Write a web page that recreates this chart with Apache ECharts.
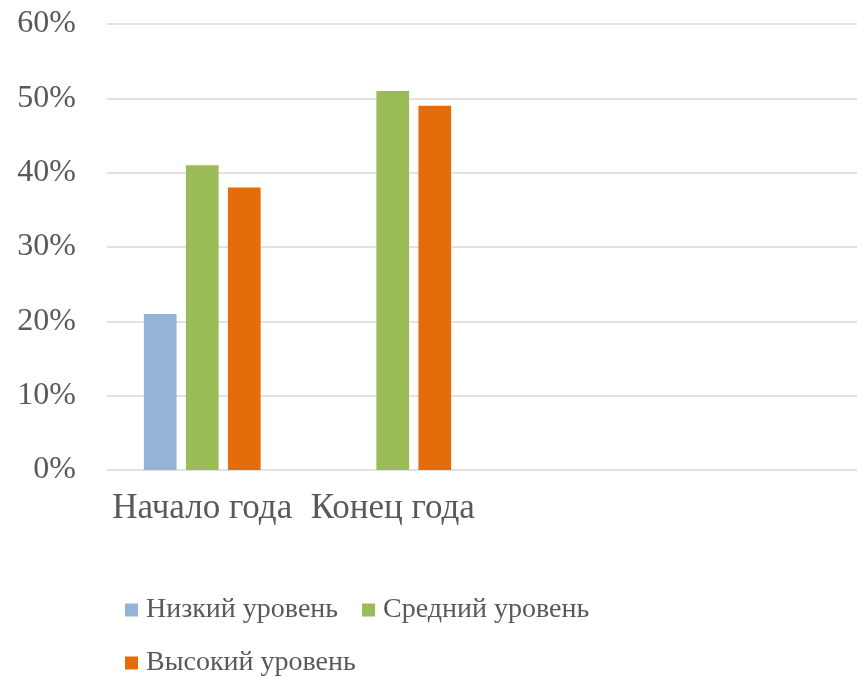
<!DOCTYPE html>
<html>
<head>
<meta charset="utf-8">
<script src="https://cdn.jsdelivr.net/npm/echarts@6/dist/echarts.min.js"></script>
<style>html,body{margin:0;padding:0;background:#fff}#c{width:857px;height:677px}</style>
</head>
<body>
<div id="c"></div>
<script>
const categories = ['Начало года', 'Конец года', '', ''];
const seriesNames = ['Низкий уровень', 'Средний уровень', 'Высокий уровень'];
const lowLevel = [21, null, null, null];
const midLevel = [41, 51, null, null];
const highLevel = [38, 49, null, null];
const yTicks = { min: 0, max: 60, interval: 10 };
const colors = ['#95b3d7', '#9bbb59', '#e46c0a'];

const chart = echarts.init(document.getElementById('c'), null, { renderer: 'canvas' });
const font = 'Liberation Serif';
const txt = '#595959';
const legendText = { color: txt, fontFamily: font, fontSize: 28, padding: [0, 0, 0, 3] };
chart.setOption({
  animation: false,
  backgroundColor: '#fff',
  color: colors,
  grid: { left: 107, top: 24, width: 762, height: 446, outerBoundsMode: 'none', containLabel: false },
  legend: [
    { data: [seriesNames[0], seriesNames[1]], left: 120, top: 591, itemWidth: 13, itemHeight: 13, itemGap: 24, textStyle: legendText, icon: 'rect' },
    { data: [seriesNames[2]], left: 120, top: 644, itemWidth: 13, itemHeight: 13, textStyle: legendText, icon: 'rect' }
  ],
  xAxis: {
    type: 'category',
    data: categories,
    axisLine: { show: false },
    axisTick: { show: false },
    axisLabel: { color: txt, fontFamily: font, fontSize: 35, margin: 21, interval: 0 }
  },
  yAxis: {
    type: 'value',
    min: yTicks.min, max: yTicks.max, interval: yTicks.interval,
    axisLine: { show: false },
    axisTick: { show: false },
    splitLine: { lineStyle: { color: '#d9d9d9', width: 1.5 } },
    axisLabel: { color: txt, fontFamily: font, fontSize: 32, margin: 31, formatter: '{value}%' }
  },
  series: [
    { name: seriesNames[0], type: 'bar', data: lowLevel, barGap: '28.5%', barCategoryGap: '38.7%' },
    { name: seriesNames[1], type: 'bar', data: midLevel, barGap: '28.5%', barCategoryGap: '38.7%' },
    { name: seriesNames[2], type: 'bar', data: highLevel, barGap: '28.5%', barCategoryGap: '38.7%' }
  ]
});
</script>
</body>
</html>
